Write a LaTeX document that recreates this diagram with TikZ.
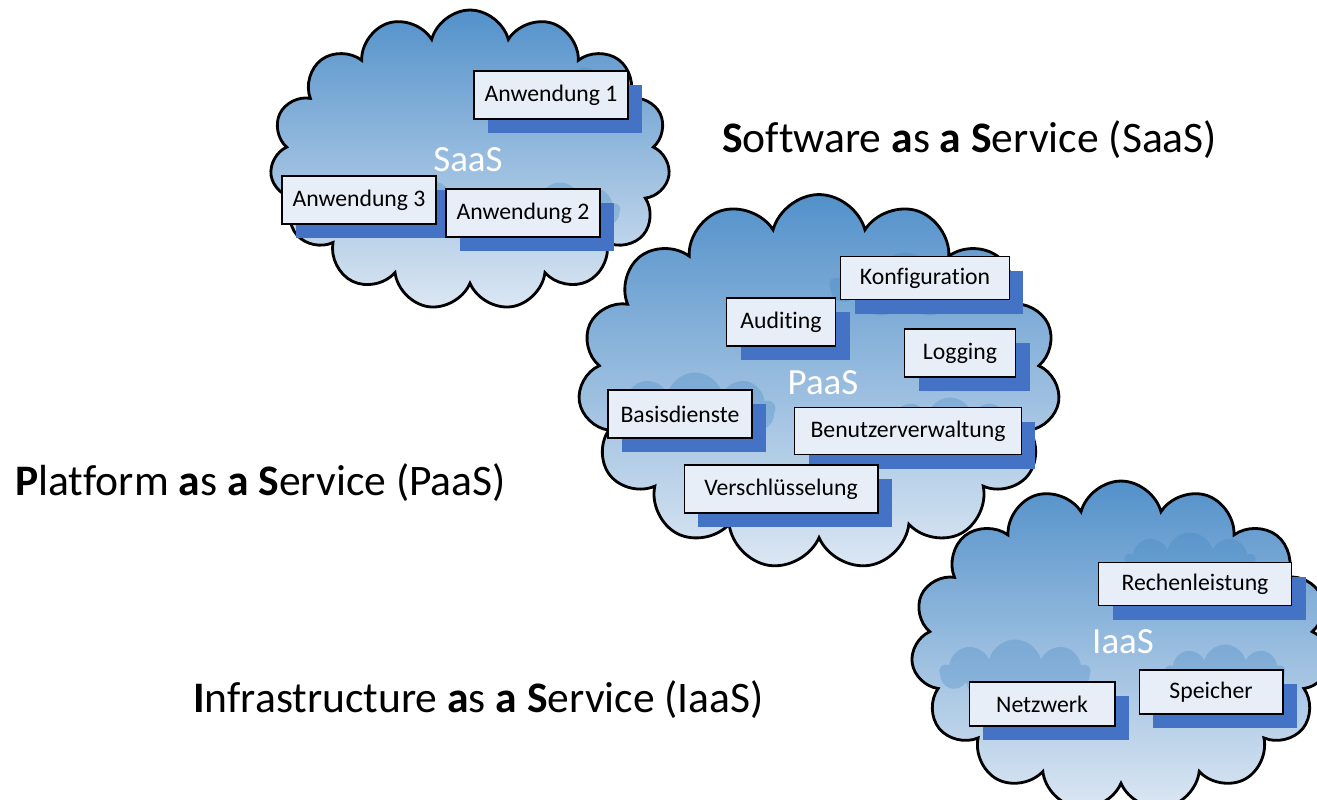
\documentclass[tikz,border=0pt]{standalone}
\usepackage{fontspec}
\setmainfont{Carlito}[Ligatures=NoCommon]
\usetikzlibrary{shapes.symbols,shadows}
\definecolor{wolkeoben}{HTML}{5391CA}
\definecolor{wolkeunten}{HTML}{DCE7F3}
\definecolor{puff}{HTML}{3F84C2}
\definecolor{schatten}{HTML}{4472C4}
\definecolor{kasten}{HTML}{E8EEF8}
\tikzset{
    wolke/.style={cloud, cloud puffs=15, aspect=1.35, draw=black, line width=1.6pt,
        top color=wolkeoben, bottom color=wolkeunten, inner sep=0pt},
    innenwolke/.style={cloud, cloud puffs=9, aspect=2, fill=puff, opacity=0.3, inner sep=0pt},
    dienst/.style={draw=black, line width=0.6pt, fill=kasten, inner sep=0pt,
        minimum height=0.96cm, font=\fontsize{13.5}{15}\selectfont,
        drop shadow={shadow xshift=0.28cm, shadow yshift=-0.28cm, fill=schatten, opacity=1}},
    wolkenname/.style={text=white, font=\fontsize{21}{24}\selectfont},
    titel/.style={anchor=west, inner sep=0pt, font=\fontsize{24.8}{28}\selectfont}
}
\begin{document}
\begin{tikzpicture}[x=0.02cm, y=-0.02cm]
    \useasboundingbox (0,0) rectangle (1317,799);
    \clip (0,0) rectangle (1317,799);

    % SaaS
    \node[wolke, minimum width=8cm, minimum height=6cm] (saas) at (470,160) {};
    \node[innenwolke, minimum width=1.8cm, minimum height=1.1cm] (saaspuff1) at (585,95) {};
    \node[innenwolke, minimum width=2.6cm, minimum height=1.2cm] (saaspuff2) at (395,205) {};
    \node[innenwolke, minimum width=2.4cm, minimum height=1.1cm] (saaspuff3) at (560,210) {};
    \node[wolkenname] (saaslabel) at (468,160) {SaaS};
    \node[dienst, minimum width=3.08cm] (anw1) at (551,95) {Anwendung 1};
    \node[dienst, minimum width=3.08cm] (anw3) at (359,200) {Anwendung 3};
    \node[dienst, minimum width=3.08cm] (anw2) at (523,213) {Anwendung 2};

    % PaaS
    \node[wolke, minimum width=9.64cm, minimum height=7.5cm] (paas) at (819,382) {};
    \node[innenwolke, minimum width=3.2cm, minimum height=1.5cm] (paaspuff1) at (695,410) {};
    \node[innenwolke, minimum width=3cm, minimum height=1.3cm] (paaspuff2) at (905,285) {};
    \node[innenwolke, minimum width=2.6cm, minimum height=1.1cm] (paaspuff3) at (950,425) {};
    \node[wolkenname] (paaslabel) at (823,383) {PaaS};
    \node[dienst, minimum width=3.38cm, minimum height=0.86cm] (konfig) at (925,278) {Konfiguration};
    \node[dienst, minimum width=2.18cm] (audit) at (781,322) {Auditing};
    \node[dienst, minimum width=2.22cm] (logging) at (960,353) {Logging};
    \node[dienst, minimum width=2.88cm] (basis) at (680,414) {Basisdienste};
    \node[dienst, minimum width=4.54cm, minimum height=0.94cm] (benutzer) at (908,431) {Benutzerverwaltung};
    \node[dienst, minimum width=3.88cm] (verschl) at (781,489) {Verschlüsselung};

    % IaaS
    \node[wolke, minimum width=8.4cm, minimum height=6.6cm] (iaas) at (1121,646) {};
    \node[innenwolke, minimum width=3cm, minimum height=1.3cm] (iaaspuff1) at (1015,672) {};
    \node[innenwolke, minimum width=2.4cm, minimum height=1.1cm] (iaaspuff2) at (1225,672) {};
    \node[innenwolke, minimum width=2.6cm, minimum height=1.1cm] (iaaspuff3) at (1190,560) {};
    \node[wolkenname] (iaaslabel) at (1123,642) {IaaS};
    \node[dienst, minimum width=3.86cm, minimum height=0.86cm] (rechnen) at (1195,584) {Rechenleistung};
    \node[dienst, minimum width=2.92cm, minimum height=0.88cm] (netz) at (1042,704) {Netzwerk};
    \node[dienst, minimum width=2.88cm, minimum height=0.88cm] (speicher) at (1211,692) {Speicher};

    \node[titel] (saastitel) at (722,140) {\textbf{S}oftware \textbf{a}s \textbf{a} \textbf{S}ervice (SaaS)};
    \node[titel] (paastitel) at (15,483) {\textbf{P}latform \textbf{a}s \textbf{a} \textbf{S}ervice (PaaS)};
    \node[titel] (iaastitel) at (193,700) {\textbf{I}nfrastructure \textbf{a}s \textbf{a} \textbf{S}ervice (IaaS)};
\end{tikzpicture}
\end{document}
